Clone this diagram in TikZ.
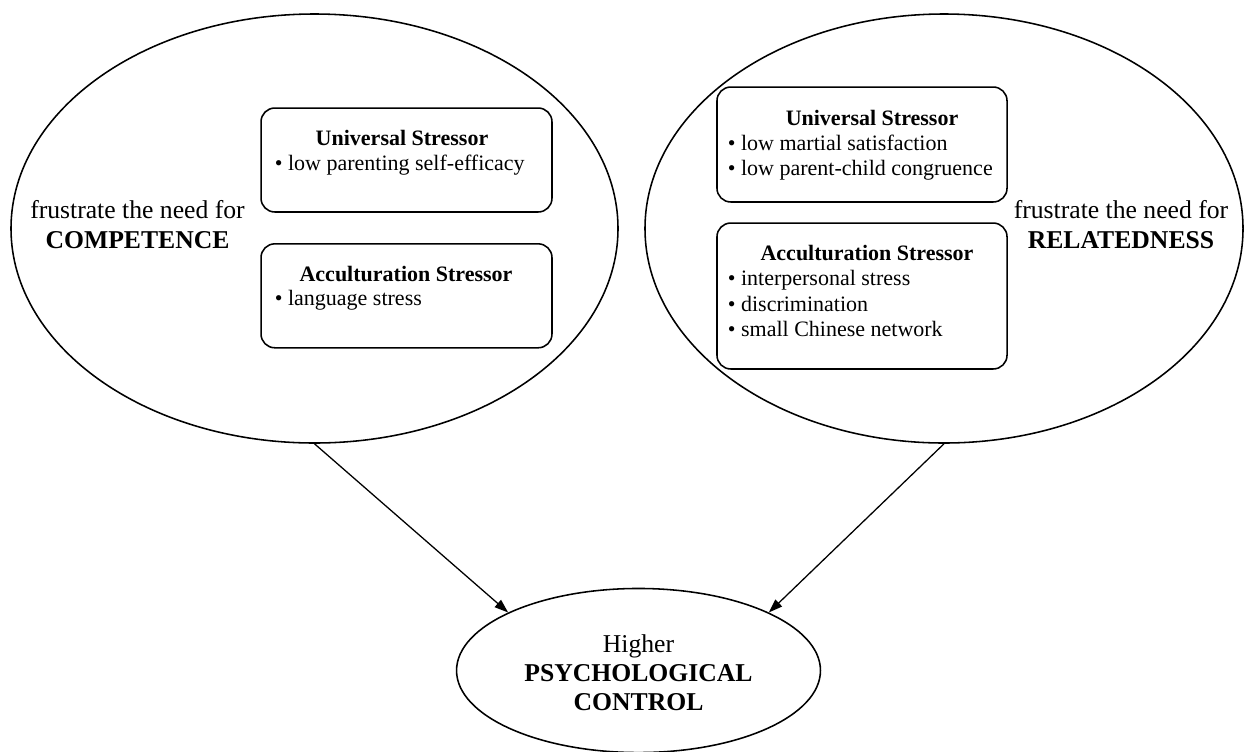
\documentclass[tikz,border=0pt]{standalone}
\usepackage{fontspec}
\setmainfont{Liberation Serif}
\usetikzlibrary{shapes.geometric,arrows.meta}
\begin{document}
\begin{tikzpicture}[x=0.54545pt,y=-0.54545pt,
  oval/.style={draw,ellipse,line width=0.85pt,inner sep=0pt},
  stressbox/.style={draw,rounded corners=7.5pt,line width=0.85pt,inner sep=0pt},
  small/.style={font=\fontsize{12}{13.8}\selectfont,inner sep=0pt,anchor=base},
  item/.style={small,anchor=base west},
  big/.style={font=\fontsize{14}{16.1}\selectfont,inner sep=0pt,anchor=base},
  arr/.style={-{Triangle[length=7.5pt,width=5.2pt]},line width=0.7pt}]
\useasboundingbox (0,0) rectangle (1244,751);

% the three need / outcome ellipses
\node[oval,minimum width=331.1pt,minimum height=234pt] (comp) at (314.5,228.5) {};
\node[oval,minimum width=326.2pt,minimum height=234pt] (rel) at (944,228.5) {};
\node[oval,minimum width=198.5pt,minimum height=89.5pt] (ctrl) at (638.5,670.5) {};

% competence side
\node[big] (compa) at (137.5,218) {frustrate the need for};
\node[big] (compb) at (137.5,248) {\textbf{COMPETENCE}};

\node[stressbox,minimum width=158.7pt,minimum height=56.7pt] (cu) at (406.5,160) {};
\node[small] (cut) at (402,145) {\textbf{Universal Stressor}};
\node[item] (cu1) at (274.5,170) {\textbullet\ low parenting self-efficacy};

\node[stressbox,minimum width=158.7pt,minimum height=56.7pt] (ca) at (406.5,295.8) {};
\node[small] (cat) at (406,281) {\textbf{Acculturation Stressor}};
\node[item] (ca1) at (274.5,305) {\textbullet\ language stress};

% relatedness side
\node[big] (rela) at (1121,218) {frustrate the need for};
\node[big] (relb) at (1121,248) {\textbf{RELATEDNESS}};

\node[stressbox,minimum width=158.2pt,minimum height=62.7pt] (ru) at (862,144.5) {};
\node[small] (rut) at (872,125) {\textbf{Universal Stressor}};
\node[item] (ru1) at (727.5,150) {\textbullet\ low martial satisfaction};
\node[item] (ru2) at (727.5,175) {\textbullet\ low parent-child congruence};

\node[stressbox,minimum width=158.2pt,minimum height=79.6pt] (ra) at (862,296) {};
\node[small] (rat) at (867,260) {\textbf{Acculturation Stressor}};
\node[item] (ra1) at (727.5,285) {\textbullet\ interpersonal stress};
\node[item] (ra2) at (727.5,311) {\textbullet\ discrimination};
\node[item] (ra3) at (727.5,336) {\textbullet\ small Chinese network};

% outcome
\node[big] (ctrla) at (638.5,652) {Higher};
\node[big] (ctrlb) at (638.5,681) {\textbf{PSYCHOLOGICAL}};
\node[big] (ctrlc) at (638.5,710) {\textbf{CONTROL}};

% paths
\draw[arr] (comp.south) -- (ctrl.156);
\draw[arr] (rel.south) -- (ctrl.24);
\end{tikzpicture}
\end{document}
